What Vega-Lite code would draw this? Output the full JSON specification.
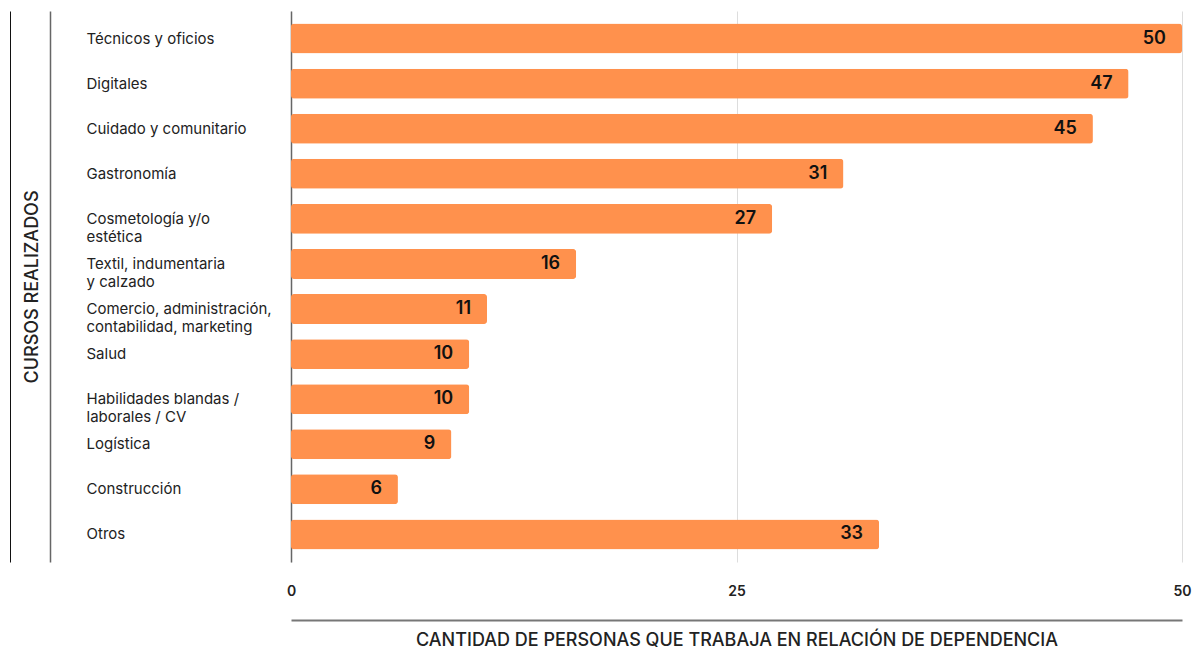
{
  "$schema": "https://vega.github.io/schema/vega-lite/v6.json",
  "autosize": "none",
  "width": 891,
  "height": 551,
  "padding": {"left": 291, "top": 11, "right": 13, "bottom": 92},
  "background": "white",
  "config": {
    "view": {"stroke": null},
    "font": "Inter"
  },
  "data": {
    "values": [
      {"curso": "Técnicos y oficios", "valor": 50},
      {"curso": "Digitales", "valor": 47},
      {"curso": "Cuidado y comunitario", "valor": 45},
      {"curso": "Gastronomía", "valor": 31},
      {"curso": "Cosmetología y/o|estética", "valor": 27},
      {"curso": "Textil, indumentaria|y calzado", "valor": 16},
      {"curso": "Comercio, administración,|contabilidad, marketing", "valor": 11},
      {"curso": "Salud", "valor": 10},
      {"curso": "Habilidades blandas /|laborales / CV", "valor": 10},
      {"curso": "Logística", "valor": 9},
      {"curso": "Construcción", "valor": 6},
      {"curso": "Otros", "valor": 33}
    ]
  },
  "resolve": {"scale": {"y": "shared"}, "axis": {"y": "independent"}},
  "layer": [
    {
      "mark": {"type": "bar", "color": "#FF914D", "cornerRadius": 3},
      "encoding": {
        "y": {
          "field": "curso", "type": "nominal", "sort": null,
          "scale": {"paddingInner": 0.336, "paddingOuter": 0.28},
          "axis": {
            "orient": "left",
            "title": null,
            "ticks": false,
            "domain": true,
            "domainColor": "#666666",
            "domainWidth": 1.5,
            "labelAlign": "left",
            "labelBaseline": "middle",
            "labelPadding": 205,
            "labelFontSize": 15,
            "labelColor": "#222222",
            "labelLineHeight": 18,
            "labelLimit": 300,
            "labelExpr": "split(datum.label, '|')"
          }
        },
        "x": {
          "field": "valor", "type": "quantitative",
          "scale": {"domain": [0, 50], "nice": false},
          "axis": {
            "values": [0, 25, 50],
            "grid": true,
            "gridColor": "#dddddd",
            "gridWidth": 1,
            "ticks": false,
            "offset": 58,
            "domain": true,
            "domainColor": "#777777",
            "domainWidth": 2,
            "labelBaseline": "middle",
            "labelPadding": -29,
            "labelFontSize": 14,
            "labelFontWeight": 600,
            "labelColor": "#222222",
            "labelFlush": false,
            "title": "CANTIDAD DE PERSONAS QUE TRABAJA EN RELACIÓN DE DEPENDENCIA",
            "titleFontSize": 18,
            "titleFontWeight": 500,
            "titleColor": "#222222",
            "titlePadding": 11
          }
        }
      }
    },
    {
      "mark": {"type": "text", "align": "right", "baseline": "middle", "dx": -16, "fontSize": 18, "fontWeight": 600, "color": "#111111"},
      "encoding": {
        "y": {"field": "curso", "type": "nominal", "sort": null, "axis": null},
        "x": {"field": "valor", "type": "quantitative"},
        "text": {"field": "valor", "type": "quantitative"}
      }
    },
    {
      "mark": {"type": "point", "opacity": 0},
      "encoding": {
        "y": {
          "field": "curso", "type": "nominal", "sort": null,
          "axis": {
            "orient": "left",
            "offset": 241,
            "labels": false,
            "ticks": false,
            "domain": true,
            "domainColor": "#666666",
            "domainWidth": 1.5,
            "title": "CURSOS REALIZADOS",
            "titleFontSize": 18,
            "titleFontWeight": 500,
            "titleColor": "#222222",
            "titlePadding": 9
          }
        }
      }
    },
    {
      "mark": {"type": "point", "opacity": 0},
      "encoding": {
        "y": {
          "field": "curso", "type": "nominal", "sort": null,
          "axis": {
            "orient": "left",
            "offset": 281,
            "labels": false,
            "ticks": false,
            "domain": true,
            "domainColor": "#111111",
            "domainWidth": 1,
            "title": null
          }
        }
      }
    }
  ]
}
